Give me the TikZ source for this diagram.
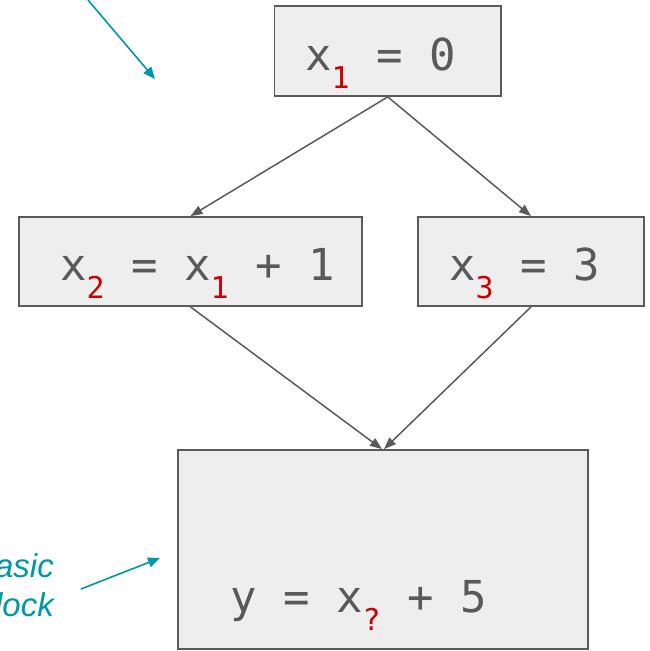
\documentclass[tikz,border=0pt]{standalone}
\usepackage{fontspec}
\setmainfont{Liberation Sans}
\newfontfamily\codefont{DejaVu Sans Mono}
\usetikzlibrary{arrows.meta}
\definecolor{boxgray}{HTML}{EEEEEE}
\definecolor{linegray}{HTML}{5A5A5A}
\definecolor{txtgray}{HTML}{595959}
\definecolor{subred}{HTML}{CC0000}
\definecolor{annoteal}{HTML}{0097A7}
\newcommand{\rsub}[1]{\raisebox{-18pt}{\fontsize{30}{30}\selectfont\color{subred}#1}}
\tikzset{
  blockbox/.style={draw=linegray, fill=boxgray, line width=1.8pt, inner sep=0pt},
  code/.style={inner sep=0pt, text=txtgray, font=\codefont\fontsize{44}{50}\selectfont},
  conn/.style={draw=linegray, line width=1.5pt, -{Triangle[length=12pt,width=9pt]}},
  annarrow/.style={draw=annoteal, line width=1.6pt, -{Triangle[length=12pt,width=10pt]}},
  lbl/.style={inner sep=0pt, text=annoteal, font=\fontsize{33}{38}\selectfont\itshape}
}
\begin{document}
\begin{tikzpicture}[x=1pt,y=-1pt]
\clip (0,0) rectangle (650,651);
\useasboundingbox (0,0) rectangle (650,651);
% boxes
\node[blockbox, minimum width=226.5pt, minimum height=90pt] (top) at (387.75,51) {};
\node[blockbox, minimum width=343pt, minimum height=89pt] (left) at (190.5,261.5) {};
\node[blockbox, minimum width=226pt, minimum height=89pt] (right) at (531,261.5) {};
\node[blockbox, minimum width=410pt, minimum height=199pt] (bottom) at (383,549.5) {};
% texts
\node[code, anchor=base west] (ttop) at (305,70) {x\rsub{1} = 0};
\node[code, anchor=base west] (tleft) at (60,280) {x\rsub{2} = x\rsub{1} + 1};
\node[code, anchor=base west] (tright) at (449,280) {x\rsub{3} = 3};
\node[code, anchor=base west] (tbottom) at (230,612) {y = x\rsub{?} + 5};
% connectors
\draw[conn] (top.south) -- (left.north);
\draw[conn] (top.south) -- (right.north);
\draw[conn] (left.south) -- ([xshift=-1pt]bottom.north);
\draw[conn] (right.south) -- ([xshift=1pt]bottom.north);
% annotations
\coordinate (a1s) at (88,0);
\coordinate (a1e) at (155,79);
\draw[annarrow] (a1s) -- (a1e);
\node[lbl, anchor=base east] (lb1) at (54,577) {Basic};
\node[lbl, anchor=base east] (lb2) at (54,616) {block};
\coordinate (a2s) at (81,589);
\coordinate (a2e) at (160,558);
\draw[annarrow] (a2s) -- (a2e);
\end{tikzpicture}
\end{document}
